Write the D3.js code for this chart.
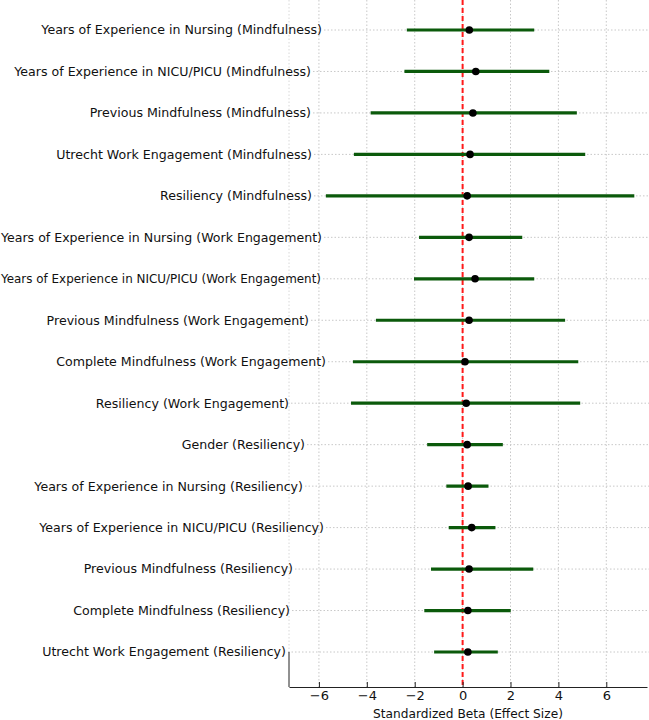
<!DOCTYPE html>
<html>
<head>
<meta charset="utf-8">
<script src="https://cdn.jsdelivr.net/npm/d3@7"></script>
<style>
  html, body { margin: 0; padding: 0; background: #fff; }
  svg { display: block; }
  text { font-family: "DejaVu Sans", sans-serif; fill: #111; }
</style>
</head>
<body>
<svg id="chart" width="649" height="720"></svg>
<script>
// ---------- data ----------
const labels = [
  "Years of Experience in Nursing (Mindfulness)",
  "Years of Experience in NICU/PICU (Mindfulness)",
  "Previous Mindfulness (Mindfulness)",
  "Utrecht Work Engagement (Mindfulness)",
  "Resiliency (Mindfulness)",
  "Years of Experience in Nursing (Work Engagement)",
  "Years of Experience in NICU/PICU (Work Engagement)",
  "Previous Mindfulness (Work Engagement)",
  "Complete Mindfulness (Work Engagement)",
  "Resiliency (Work Engagement)",
  "Gender (Resiliency)",
  "Years of Experience in Nursing (Resiliency)",
  "Years of Experience in NICU/PICU (Resiliency)",
  "Previous Mindfulness (Resiliency)",
  "Complete Mindfulness (Resiliency)",
  "Utrecht Work Engagement (Resiliency)"
];
const beta  = [0.28, 0.55, 0.43, 0.31, 0.19, 0.27, 0.52, 0.27, 0.10, 0.15, 0.19, 0.23, 0.38, 0.27, 0.22, 0.22];
const lower = [-2.33, -2.43, -3.84, -4.54, -5.71, -1.82, -2.03, -3.62, -4.58, -4.66, -1.48, -0.68, -0.58, -1.32, -1.60, -1.19];
const upper = [2.99, 3.62, 4.77, 5.12, 7.17, 2.49, 2.99, 4.28, 4.83, 4.91, 1.68, 1.08, 1.37, 2.95, 2.01, 1.47];
const xTicks = [-6, -4, -2, 0, 2, 4, 6];
const xTitle = "Standardized Beta (Effect Size)";

// ---------- layout ----------
// right edge (px) of each row label as placed in the reference
const labelRight = [322, 311, 311, 312, 312, 322, 321, 309, 326, 289, 305, 303, 324, 293, 290, 286];

const svg = d3.select("#chart");
const W = 649, H = 720;
const plotL = 289, plotR = 647, axisY = 687;

const x = d3.scaleLinear().domain([-7.25, 7.7]).range([plotL, plotR]);
const y = d3.scalePoint().domain(d3.range(labels.length)).range([30, 652]);

const gridColor = "#c8c8c8";

// vertical grid lines
svg.append("g").selectAll("line").data(xTicks).join("line")
  .attr("x1", d => x(d)).attr("x2", d => x(d))
  .attr("y1", 0).attr("y2", axisY)
  .attr("stroke", gridColor).attr("stroke-width", 1)
  .attr("stroke-dasharray", "1.5,2");

// faint left line above the last row
svg.append("line")
  .attr("x1", plotL).attr("x2", plotL).attr("y1", 0).attr("y2", y(labels.length - 1))
  .attr("stroke", "#d8d8d8").attr("stroke-width", 1).attr("stroke-dasharray", "1.5,2");

const fontSize = 12.6;

// labels + horizontal grid lines
const rows = svg.append("g").selectAll("g").data(labels).join("g");
rows.append("line")
  .attr("x1", (d, i) => labelRight[i] + 2).attr("x2", W)
  .attr("y1", (d, i) => y(i)).attr("y2", (d, i) => y(i))
  .attr("stroke", gridColor).attr("stroke-width", 1)
  .attr("stroke-dasharray", "1.5,2");
rows.append("text")
  .attr("x", (d, i) => labelRight[i])
  .attr("y", (d, i) => y(i))
  .attr("dy", "0.35em")
  .attr("text-anchor", "end")
  .attr("font-size", fontSize)
  .text(d => d)
  .each(function (d, i) {
    const avail = labelRight[i] - 1;
    const len = this.getComputedTextLength();
    if (len > avail) {
      d3.select(this).attr("textLength", avail).attr("lengthAdjust", "spacingAndGlyphs");
    }
  });

// red dashed zero line
svg.append("line")
  .attr("x1", x(0)).attr("x2", x(0)).attr("y1", 0).attr("y2", axisY)
  .attr("stroke", "#ff1a1a").attr("stroke-width", 2)
  .attr("stroke-dasharray", "5,3");

// CI bars
svg.append("g").selectAll("line").data(labels).join("line")
  .attr("x1", (d, i) => x(lower[i])).attr("x2", (d, i) => x(upper[i]))
  .attr("y1", (d, i) => y(i)).attr("y2", (d, i) => y(i))
  .attr("stroke", "#0b5a0b").attr("stroke-width", 3.2);

// points
svg.append("g").selectAll("circle").data(labels).join("circle")
  .attr("cx", (d, i) => x(beta[i])).attr("cy", (d, i) => y(i))
  .attr("r", 3.8).attr("fill", "#000");

// axes
svg.append("line").attr("x1", plotL).attr("x2", plotL)
  .attr("y1", y(labels.length - 1)).attr("y2", axisY)
  .attr("stroke", "#222").attr("stroke-width", 1);
const xAxis = d3.axisBottom(x).tickValues(xTicks).tickSizeInner(-5).tickSizeOuter(0)
  .tickPadding(4).tickFormat(d => d3.format("")(d).replace("-", "\u2212"));
const gx = svg.append("g").attr("transform", `translate(0,${axisY})`).call(xAxis);
gx.select(".domain").attr("stroke", "#222");
gx.selectAll(".tick line").attr("stroke", "#222");
gx.selectAll(".tick text").attr("font-size", 13).attr("font-family", "DejaVu Sans, sans-serif").attr("fill", "#111");

svg.append("text")
  .attr("x", (plotL + plotR) / 2).attr("y", 718)
  .attr("text-anchor", "middle").attr("font-size", 12.2)
  .text(xTitle);
</script>
</body>
</html>
